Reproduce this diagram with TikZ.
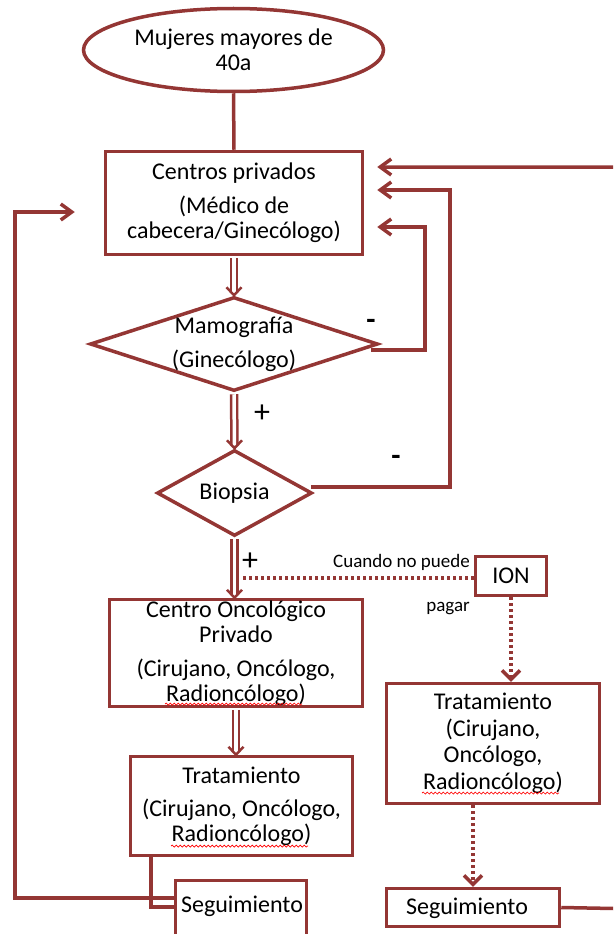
\documentclass[tikz,border=0pt]{standalone}
\usepackage{fontspec}
\setmainfont{Carlito}
\usetikzlibrary{arrows.meta,shapes.geometric,calc,decorations.pathmorphing}
\definecolor{mr}{HTML}{943634}
\newcommand\dblarr[2]{%
  \draw[dbl] ($(#1)+(0,1.5)$) -- ($(#2)+(0,-3)$);
  \draw[vee] ($(#2)+(-7.5,-8)$) -- (#2) -- ($(#2)+(7.5,-8)$);}
\begin{document}
\begin{tikzpicture}[x=1pt,y=-1pt,
  every node/.style={font=\fontsize{24}{25}\selectfont, text=black, inner sep=0pt},
  box/.style={draw=mr, line width=3.5pt, rectangle, align=center},
  ell/.style={draw=mr, line width=3.5pt, ellipse, align=center},
  dia/.style={draw=mr, line width=3.5pt, diamond},
  ln/.style={draw=mr, line width=3.5pt},
  arr/.style={draw=mr, line width=3.5pt, -{Straight Barb[length=11pt,width=16pt]}},
  dbl/.style={draw=mr, line width=2.5pt, double=white, double distance=3.5pt},
  vee/.style={draw=mr, line width=2.5pt, line join=miter},
  dot/.style={draw=mr, line width=3.5pt, dash pattern=on 3pt off 3pt},
  dota/.style={dot, -{Straight Barb[length=9pt,width=18pt]}},
  snk/.style={draw=red, line width=0.7pt, decorate, decoration={snake, segment length=4pt, amplitude=1pt}},
  small/.style={font=\fontsize{19}{20}\selectfont},
  sign/.style={font=\fontsize{32}{32}\selectfont},
  minus/.style={font=\bfseries\fontsize{30}{30}\selectfont}]
\useasboundingbox (0,0) rectangle (613,934);
\clip (0,0) rectangle (613,934);

% nodes
\node[ell, minimum width=300, minimum height=83] (start) at (233.5,50) {Mujeres mayores de\\40a};
\node[box, minimum width=257, minimum height=103] (box1) at (234,203) {Centros privados\\[9pt](Médico de\\cabecera/Ginecólogo)};
\node[dia, minimum width=288, minimum height=94] (mam) at (234,344) {};
\node[align=center] (mamt) at (mam.center) {Mamografía\\[9pt](Ginecólogo)};
\node[dia, minimum width=155, minimum height=86] (bio) at (234.5,493) {};
\node (biot) at (bio.center) {Biopsia};
\node[box, minimum width=253, minimum height=107] (box3) at (236,653) {Centro Oncológico\\Privado\\[9pt](Cirujano, Oncólogo,\\Radioncólogo)};
\node[box, minimum width=222, minimum height=99] (box4) at (241.5,806) {Tratamiento\\[8pt](Cirujano, Oncólogo,\\Radioncólogo)};
\node[box, minimum width=131, minimum height=63] (seg1) at (241,912) {};
\node (seg1t) at (242,906) {Seguimiento};
\node[box, minimum width=71, minimum height=39] (ion) at (511,576) {ION};
\node[box, minimum width=213, minimum height=120] (tr2) at (493,743.5) {Tratamiento\\[1.5pt](Cirujano,\\[1.5pt]Oncólogo,\\[1.5pt]Radioncólogo)};
\node[box, minimum width=173, minimum height=38] (seg2) at (473,907.5) {};
\node (seg2t) at (467,908) {Seguimiento};

% labels
\node[sign] (p1) at (262,414) {+};
\node[minus] (m1) at (371,324) {-};
\node[minus] (m2) at (396,460) {-};
\node[sign] (p2) at (250,562) {+};
\node[small, anchor=east, align=right] (cnp) at (470,585) {Cuando no puede\\[24pt]pagar};

% connectors
\draw[ln] (start.south) -- (box1.north);
\dblarr{box1.south}{mam.north}
\dblarr{mam.south}{bio.north}
\coordinate (b3top) at (bio.south |- box3.north);
\dblarr{bio.south}{b3top}
\coordinate (b4top) at (box3.south |- box4.north);
\dblarr{box3.south}{b4top}

\draw[arr, shorten >=13pt] ($(mam.east)+(-9,6)$) -| (425,227) -- (box1.east |- 0,227);
\draw[arr, shorten >=13pt] ($(bio.east)+(-3,-6)$) -| (450,190) -- (box1.east |- 0,190);
\draw[arr, shorten >=13pt] (seg2.east) -- (640,909) -- (640,167) -- (box1.east |- 0,167);
\draw[arr, shorten >=29pt] ($(seg1.north west)+(0,19)$) -| (15,212) -- (box1.west |- 0,212);
\draw[ln] ($(box4.south west)+(22,0)$) |- ($(seg1.north west)+(0,28)$);

\coordinate (dj) at (240,578);
\draw[dot] (ion.west |- dj) -- (dj);
\draw[dota] (ion.south) -- (ion.south |- tr2.north);
\draw[dota] (seg2.north |- tr2.south) -- (seg2.north);

% spell-check underlines
\draw[snk] (165,704) -- (302,704);
\draw[snk] (171,846) -- (308,846);
\draw[snk] (422,793) -- (559,793);
\end{tikzpicture}
\end{document}
